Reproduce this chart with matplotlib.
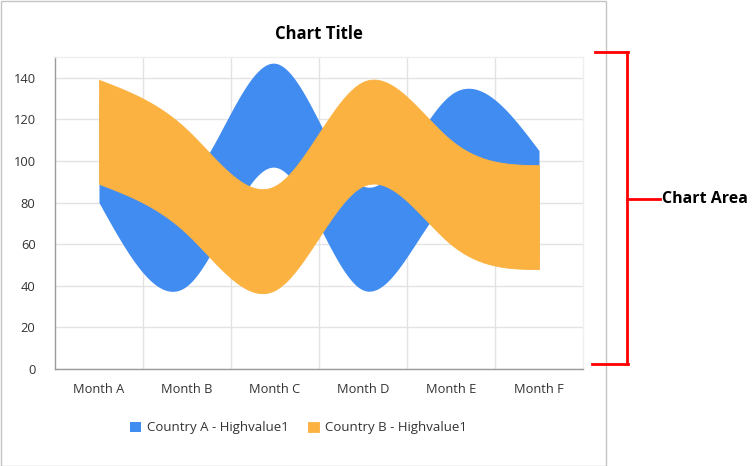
import numpy as np
import matplotlib
matplotlib.use("Agg")
import matplotlib.pyplot as plt
from matplotlib.patches import Rectangle
from matplotlib.lines import Line2D

categories = ["Month A", "Month B", "Month C", "Month D", "Month E", "Month F"]
a_high = [130, 90, 147, 88, 132, 105]
a_low = [80, 40, 97, 38, 82, 55]
b_high = [139, 115, 88, 138, 110, 98]
b_low = [89, 65, 38, 88, 60, 48]
y_ticks = [0, 20, 40, 60, 80, 100, 120, 140]

BLUE = "#418CF0"
ORANGE = "#FBB241"
TXT = "#333333"
FONT = ["Open Sans", "DejaVu Sans"]
plt.rcParams["font.family"] = FONT


def natural_spline(xs, ys, n=400):
    xs = np.asarray(xs, float)
    ys = np.asarray(ys, float)
    k = len(xs)
    h = np.diff(xs)
    A = np.zeros((k, k))
    r = np.zeros(k)
    A[0, 0] = 1
    A[-1, -1] = 1
    for i in range(1, k - 1):
        A[i, i - 1] = h[i - 1]
        A[i, i] = 2 * (h[i - 1] + h[i])
        A[i, i + 1] = h[i]
        r[i] = 6 * ((ys[i + 1] - ys[i]) / h[i] - (ys[i] - ys[i - 1]) / h[i - 1])
    M = np.linalg.solve(A, r)
    xx = np.linspace(xs[0], xs[-1], n)
    idx = np.clip(np.searchsorted(xs, xx) - 1, 0, k - 2)
    x0 = xs[idx]
    x1 = xs[idx + 1]
    hh = x1 - x0
    t0 = x1 - xx
    t1 = xx - x0
    yy = (M[idx] * t0 ** 3 / (6 * hh) + M[idx + 1] * t1 ** 3 / (6 * hh)
          + (ys[idx] / hh - M[idx] * hh / 6) * t0
          + (ys[idx + 1] / hh - M[idx + 1] * hh / 6) * t1)
    return xx, yy


fig = plt.figure(figsize=(7.55, 4.66), dpi=100)
W, H = 755, 466

# outer chart border
fig.add_artist(Rectangle((0.5 / W, 0.5 / H), 605 / W, 464.5 / H, transform=fig.transFigure,
                         fill=False, edgecolor="#C4C4C4", linewidth=1))

ax = fig.add_axes([55 / W, (H - 369) / H, (583 - 55) / W, (369 - 57) / H])
x = np.arange(len(categories))

xa, yah = natural_spline(x, a_high)
_, yal = natural_spline(x, a_low)
xb, ybh = natural_spline(x, b_high)
_, ybl = natural_spline(x, b_low)

ax.fill_between(xa, yal, yah, color=BLUE, linewidth=0, zorder=2, label="Country A - Highvalue1")
ax.fill_between(xb, ybl, ybh, facecolor=ORANGE, edgecolor=ORANGE, linewidth=0.6, zorder=3,
                label="Country B - Highvalue1")

ax.set_xlim(-0.5, len(categories) - 0.5)
ax.set_ylim(0, 150)
ax.set_yticks(y_ticks)
ax.set_yticklabels([str(v) for v in y_ticks], color=TXT, fontsize=9.3)
ax.set_xticks(x)
ax.set_xticklabels(categories, color=TXT, fontsize=9.3)
ax.tick_params(axis="both", which="both", length=0)
ax.tick_params(axis="y", pad=14)
ax.tick_params(axis="x", pad=10)
for v in y_ticks:
    ax.axhline(v, color="#E3E3E3", linewidth=1, zorder=1)
for v in np.arange(0.5, len(categories) - 0.5, 1.0):
    ax.axvline(v, color="#E3E3E3", linewidth=1, zorder=1)
ax.spines["left"].set_color("#9A9A9A")
ax.spines["bottom"].set_color("#9A9A9A")
ax.spines["top"].set_color("#EFEFEF")
ax.spines["right"].set_color("#EFEFEF")
for s in ax.spines.values():
    s.set_linewidth(1)
    s.set_zorder(4)

ax.set_title("Chart Title", fontsize=12, fontweight="bold", color="black", pad=13)

leg = fig.legend(loc="center", bbox_to_anchor=(298.5 / W, (H - 428) / H), ncol=2, frameon=False,
                 fontsize=9.5, handlelength=0.85, handleheight=0.85, handletextpad=0.5,
                 columnspacing=1.4, labelcolor=TXT)

# Chart Area annotation bracket
red = "#FF0000"
def fl(x0, y0, x1, y1):
    fig.add_artist(Line2D([x0 / W, x1 / W], [(H - y0) / H, (H - y1) / H],
                          transform=fig.transFigure, color=red, linewidth=2))
fl(595, 52, 628, 52)
fl(627, 52, 627, 364)
fl(592, 364, 628, 364)
fl(627, 199, 660, 199)
fig.text(662 / W, (H - 199) / H, "Chart Area", fontsize=11.5, fontweight="bold",
         color="black", ha="left", va="center")

fig.savefig("out.png", dpi=100)
